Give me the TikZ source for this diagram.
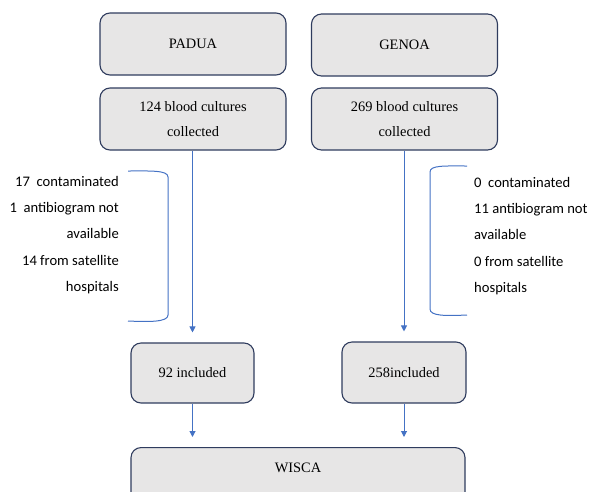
\documentclass[tikz,border=0pt]{standalone}
\usepackage{fontspec}
\setmainfont{Liberation Serif}
\newfontfamily\notefont{Carlito}
\usetikzlibrary{arrows.meta}
\definecolor{boxfill}{HTML}{E7E6E6}
\definecolor{boxline}{HTML}{2F3C5E}
\definecolor{flow}{HTML}{4472C4}

\begin{document}
\begin{tikzpicture}[x=1pt,y=-1pt]
	\useasboundingbox (0,0) rectangle (589,491);

	\begin{scope}[every node/.style={draw=boxline,fill=boxfill,line width=1.1pt,
		rounded corners=10pt,align=center,font=\fontsize{14.4}{25}\selectfont}]
		\node[minimum width=186pt,minimum height=62pt] (padua) at (193,44) {PADUA};
		\node[minimum width=186pt,minimum height=62pt] (genoa) at (404.5,45) {GENOA};
		\node[minimum width=186pt,minimum height=62pt] (cultA) at (193,119) {124 blood cultures\\collected};
		\node[minimum width=186pt,minimum height=62pt] (cultB) at (404.5,119) {269 blood cultures\\collected};
		\node[minimum width=123pt,minimum height=60pt] (incA) at (192.5,373) {92 included};
		\node[minimum width=124pt,minimum height=61pt] (incB) at (404,372.5) {258included};
		\node[minimum width=334pt,anchor=north,inner ysep=15pt,text depth=30pt] (wisca) at (298,447) {WISCA};
	\end{scope}

	% excluded cultures
	\begin{scope}[every node/.style={font=\notefont\fontsize{14.6}{26.3}\selectfont,inner sep=0pt}]
		\node[align=right,anchor=north east] (exA) at (119,176) {17\ \ contaminated\\1\ \ antibiogram not\\available\\14 from satellite\\hospitals};
		\node[align=left,anchor=north west] (exB) at (474,177) {0\ \ contaminated\\11 antibiogram not\\available\\0 from satellite\\hospitals};
	\end{scope}

	\begin{scope}[draw=flow,line width=1pt]
		\draw (128,171) .. controls (150,171) and (168,170) .. (168,177) -- (168,315)
			.. controls (168,322) and (150,322) .. (128,321);
		\draw (467,166) .. controls (445,166) and (430,165) .. (430,172) -- (430,309)
			.. controls (430,316) and (445,316) .. (467,315);
	\end{scope}

	\begin{scope}[>={Triangle[width=6pt,length=6pt]},
		every edge/.style={draw=flow,line width=1pt,->,shorten >=10pt}]
		\path (cultA.south -| incA) edge (incA.north);
		\path (cultB.south -| incB) edge (incB.north);
		\path (incA) edge (incA |- wisca.north);
		\path (incB) edge (incB |- wisca.north);
	\end{scope}
\end{tikzpicture}
\end{document}
